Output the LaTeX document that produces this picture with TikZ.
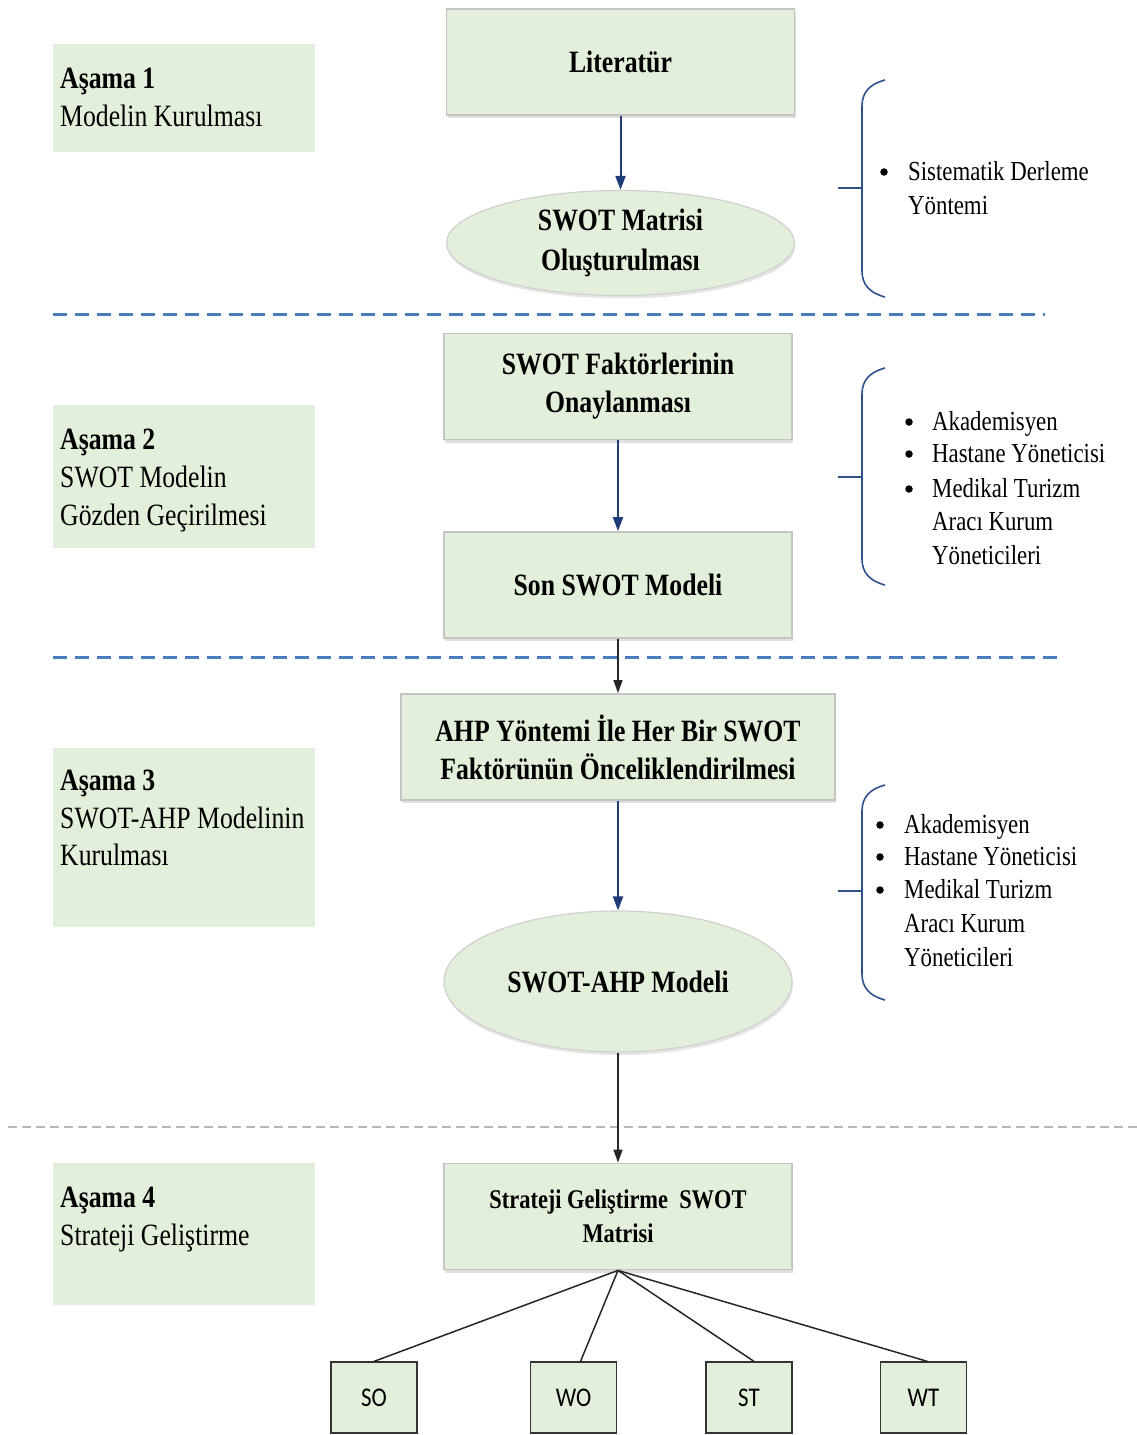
\documentclass[tikz,border=0pt]{standalone}
\usepackage{fontspec}
\setmainfont{Liberation Serif}[FakeStretch=0.83]
\newfontfamily\calfont{Carlito}[FakeStretch=0.85]
\usetikzlibrary{arrows.meta,shadows,shapes.geometric,calc}
\definecolor{boxgreen}{HTML}{E2EFDA}
\definecolor{boxline}{HTML}{C4C4C4}
\definecolor{arrowblue}{HTML}{1F3B78}
\definecolor{dashblue}{HTML}{4A7EBB}
\definecolor{bracecol}{HTML}{2F528F}
\begin{document}
\begin{tikzpicture}[x=1pt,y=-1pt,
  stepbox/.style={rectangle, draw=boxline, line width=1.8pt, fill=boxgreen,
    minimum width=348pt, minimum height=106pt, inner sep=0pt, align=center,
    font=\bfseries\fontsize{31}{38}\selectfont,
    drop shadow={opacity=0.25, shadow xshift=1pt, shadow yshift=-3pt}},
  ovalbox/.style={ellipse, draw=boxline!80, line width=1.2pt, fill=boxgreen,
    minimum width=348pt, minimum height=105pt, inner sep=0pt, align=center,
    font=\bfseries\fontsize{31}{40}\selectfont,
    drop shadow={opacity=0.2, shadow xshift=1pt, shadow yshift=-3pt}},
  phasebox/.style={rectangle, fill=boxgreen, inner sep=0pt, anchor=north west},
  phasetext/.style={anchor=base west, inner sep=0pt, font=\fontsize{31}{38}\selectfont},
  bullettext/.style={anchor=base west, inner sep=0pt, font=\fontsize{27.5}{34}\selectfont},
  bulletdot/.style={circle, fill=black, inner sep=0pt, minimum size=7.5pt},
  leafbox/.style={rectangle, draw=black!80, line width=1.2pt, fill=boxgreen,
    minimum width=86pt, minimum height=71pt, inner sep=0pt,
    font=\calfont\fontsize{27}{30}\selectfont},
  bluearrow/.style={draw=arrowblue, line width=2pt, -{Triangle[length=14pt,width=10pt]}},
  blackarrow/.style={draw=black!85, line width=1.5pt, -{Triangle[length=13pt,width=9pt]}},
  branch/.style={draw=black!85, line width=1.5pt},
  bracket/.style={draw=bracecol, line width=1.6pt},
  sepline/.style={draw=dashblue, line width=3pt, dash pattern=on 14pt off 8pt},
  greysep/.style={draw=black!28, line width=1.8pt, dash pattern=on 9pt off 5pt}
]
\useasboundingbox (0,0) rectangle (1137,1435);

% ---------- phase boxes ----------
\node[phasebox, minimum width=262pt, minimum height=108pt] (p1) at (53,44) {};
\node[phasetext] (p1a) at (60,88) {\textbf{Aşama 1}};
\node[phasetext] (p1b) at (60,126) {Modelin Kurulması};

\node[phasebox, minimum width=262pt, minimum height=143pt] (p2) at (53,405) {};
\node[phasetext] (p2a) at (60,449) {\textbf{Aşama 2}};
\node[phasetext] (p2b) at (60,487) {SWOT Modelin};
\node[phasetext] (p2c) at (60,525) {Gözden Geçirilmesi};

\node[phasebox, minimum width=262pt, minimum height=179pt] (p3) at (53,748) {};
\node[phasetext] (p3a) at (60,790) {\textbf{Aşama 3}};
\node[phasetext] (p3b) at (60,828) {SWOT-AHP Modelinin};
\node[phasetext] (p3c) at (60,865) {Kurulması};

\node[phasebox, minimum width=262pt, minimum height=142pt] (p4) at (53,1163) {};
\node[phasetext] (p4a) at (60,1207) {\textbf{Aşama 4}};
\node[phasetext] (p4b) at (60,1245) {Strateji Geliştirme};

% ---------- separators ----------
\draw[sepline] (53,314) -- (1045,314);
\draw[sepline] (53,657) -- (1058,657);
\draw[greysep] (8,1127) -- (1137,1127);

% ---------- main flow ----------
\node[stepbox] (lit) at (620.5,62) {Literatür};
\node[ovalbox] (mat) at (620.5,243) {SWOT Matrisi\\Oluşturulması};
\node[stepbox] (fak) at (618,386.5) {SWOT Faktörlerinin\\Onaylanması};
\node[stepbox] (son) at (618,585) {Son SWOT Modeli};
\node[stepbox, minimum width=434pt] (ahp) at (618,747) {AHP Yöntemi İle Her Bir SWOT\\Faktörünün Önceliklendirilmesi};
\node[ovalbox, minimum height=141pt] (sam) at (618,981.5) {SWOT-AHP Modeli};
\node[stepbox, font=\bfseries\fontsize{27}{34}\selectfont] (str) at (618,1216.5) {Strateji Geliştirme\ \ SWOT\\Matrisi};

\node[leafbox] (so) at (374,1397.5) {SO};
\node[leafbox] (wo) at (573.5,1397.5) {WO};
\node[leafbox] (st) at (749,1397.5) {ST};
\node[leafbox] (wt) at (923.5,1397.5) {WT};

\draw[bluearrow] (lit.south) -- (mat.north);
\draw[bluearrow] (fak.south) -- (son.north);
\draw[blackarrow] (son.south) -- (ahp.north);
\draw[bluearrow] (ahp.south) -- (sam.north);
\draw[blackarrow] (sam.south) -- (str.north);

\draw[branch] (str.south) -- (so.north);
\draw[branch] (str.south) -- ([xshift=7pt]wo.north);
\draw[branch] (str.south) -- ([xshift=5pt]st.north);
\draw[branch] (str.south) -- ([xshift=4pt]wt.north);

% ---------- brackets ----------
\draw[bracket] (885,80) .. controls (870,84) and (862,92) .. (862,106) -- (862,271) .. controls (862,285) and (870,293) .. (885,297);
\draw[bracket] (838,188) -- (862,188);
\draw[bracket] (885,368) .. controls (870,372) and (862,380) .. (862,394) -- (862,559) .. controls (862,573) and (870,581) .. (885,585);
\draw[bracket] (838,477) -- (862,477);
\draw[bracket] (885,785) .. controls (870,789) and (862,797) .. (862,811) -- (862,974) .. controls (862,988) and (870,996) .. (885,1000);
\draw[bracket] (838,891) -- (862,891);

% ---------- bracket texts ----------
\node[bulletdot] (b1d) at (884,172) {};
\node[bullettext] (b1a) at (908,180) {Sistematik Derleme};
\node[bullettext] (b1b) at (908,214) {Yöntemi};

\node[bulletdot] (b2d1) at (909,422) {};
\node[bullettext] (b2a) at (932,430) {Akademisyen};
\node[bulletdot] (b2d2) at (909,454) {};
\node[bullettext] (b2b) at (932,462) {Hastane Yöneticisi};
\node[bulletdot] (b2d3) at (909,489) {};
\node[bullettext] (b2c) at (932,497) {Medikal Turizm};
\node[bullettext] (b2e) at (932,530) {Aracı Kurum};
\node[bullettext] (b2f) at (932,564) {Yöneticileri};

\node[bulletdot] (b3d1) at (880,825) {};
\node[bullettext] (b3a) at (904,833) {Akademisyen};
\node[bulletdot] (b3d2) at (880,857) {};
\node[bullettext] (b3b) at (904,865) {Hastane Yöneticisi};
\node[bulletdot] (b3d3) at (880,890) {};
\node[bullettext] (b3c) at (904,898) {Medikal Turizm};
\node[bullettext] (b3e) at (904,932) {Aracı Kurum};
\node[bullettext] (b3f) at (904,966) {Yöneticileri};
\end{tikzpicture}
\end{document}
